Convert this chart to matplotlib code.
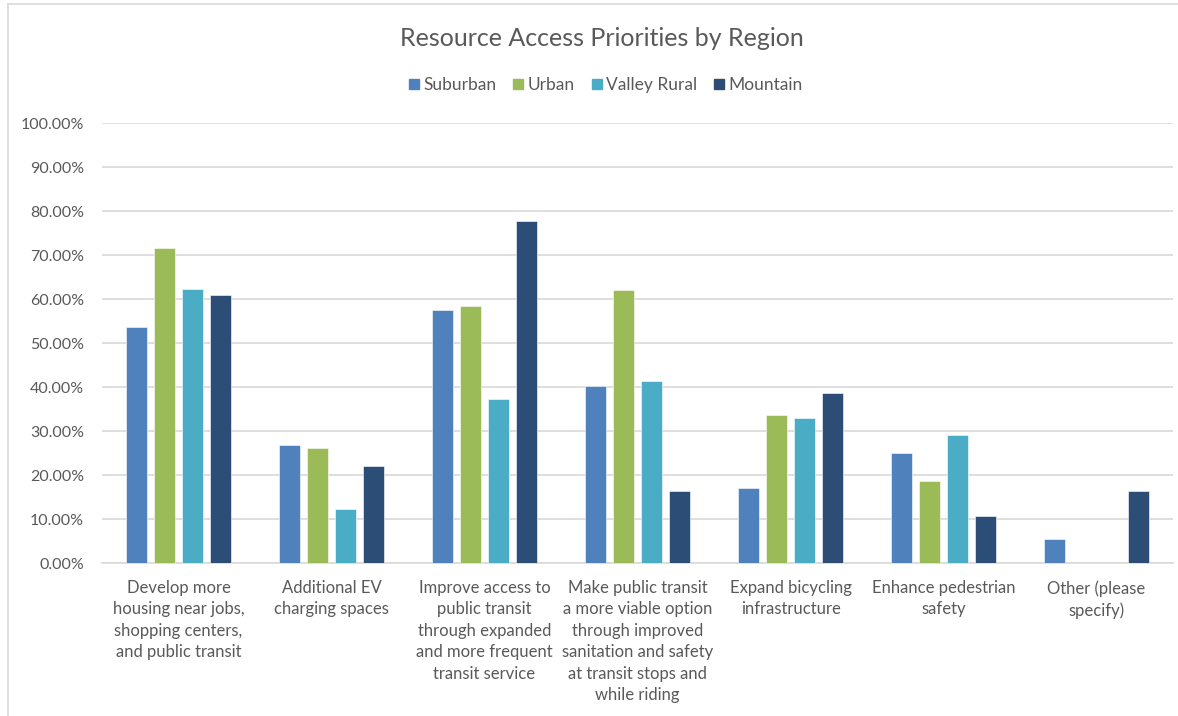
import numpy as np
import matplotlib
matplotlib.use("Agg")
import matplotlib.pyplot as plt
from matplotlib.ticker import PercentFormatter
from matplotlib.lines import Line2D

plt.rcParams['font.family'] = ['Lato', 'DejaVu Sans']

" DATA "
categories = [
    "Develop more\nhousing near jobs,\nshopping centers,\nand public transit",
    "Additional EV\ncharging spaces",
    "Improve access to\npublic transit\nthrough expanded\nand more frequent\ntransit service",
    "Make public transit\na more viable option\nthrough improved\nsanitation and safety\nat transit stops and\nwhile riding",
    "Expand bicycling\ninfrastructure",
    "Enhance pedestrian\nsafety",
    "Other (please\nspecify)",
]
series = ["Suburban", "Urban", "Valley Rural", "Mountain"]
suburban = [0.536, 0.269, 0.576, 0.402, 0.172, 0.250, 0.056]
urban = [0.716, 0.262, 0.584, 0.621, 0.337, 0.187, 0.0]
valley_rural = [0.623, 0.124, 0.373, 0.415, 0.331, 0.291, 0.0]
mountain = [0.609, 0.221, 0.777, 0.165, 0.386, 0.108, 0.165]
values = [suburban, urban, valley_rural, mountain]
colors = ['#4f81bd', '#9bbb59', '#4bacc6', '#2c4d75']

text_col = '#595959'
grid_col = '#d9d9d9'

fig = plt.figure(figsize=(11.78, 7.16), dpi=100)
ax = fig.add_axes([0.0866, 0.2133, 0.9092, 0.6149])

x = np.arange(len(categories))
pitch = 0.183
width = 0.14
for i, (name, vals) in enumerate(zip(series, values)):
    ax.bar(x + (i - 1.5) * pitch, vals, width, color=colors[i], label=name,
           edgecolor='white', linewidth=0.4, zorder=3)

ax.set_xlim(-0.5, len(categories) - 0.5)
ax.set_ylim(0, 1.0)
ax.set_yticks(np.arange(0, 1.01, 0.1))
ax.yaxis.set_major_formatter(PercentFormatter(1.0, decimals=2))
ax.grid(axis='y', color=grid_col, linewidth=1.2, zorder=0)
for s in ['top', 'right', 'left']:
    ax.spines[s].set_visible(False)
ax.spines['bottom'].set_color(grid_col)
ax.spines['bottom'].set_linewidth(1.2)
ax.set_xticks(x)
ax.set_xticklabels(categories, linespacing=1.42, fontsize=12)
ax.tick_params(axis='both', length=0, colors=text_col)
ax.tick_params(axis='y', pad=13, labelsize=11.5)
ax.tick_params(axis='x', pad=12)

fig.text(602 / 1178, 1 - 38 / 716, "Resource Access Priorities by Region",
         ha='center', va='center', fontsize=18, color=text_col)

handles = [Line2D([], [], marker='s', linestyle='none', markersize=7.5,
                  markerfacecolor=c, markeredgecolor=c) for c in colors]
fig.legend(handles, series, loc='center', bbox_to_anchor=(604 / 1178, 1 - 85 / 716),
           ncol=4, frameon=False, fontsize=12.5, labelcolor=text_col,
           handletextpad=0.05, columnspacing=0.75, handlelength=1.0)

# chart frame
fig.add_artist(Line2D([8 / 1178, 8 / 1178], [0, 1 - 4 / 716], color=grid_col, linewidth=1.2))
fig.add_artist(Line2D([8 / 1178, 1], [1 - 4 / 716, 1 - 4 / 716], color=grid_col, linewidth=1.2))

fig.savefig('out.png', dpi=100)
